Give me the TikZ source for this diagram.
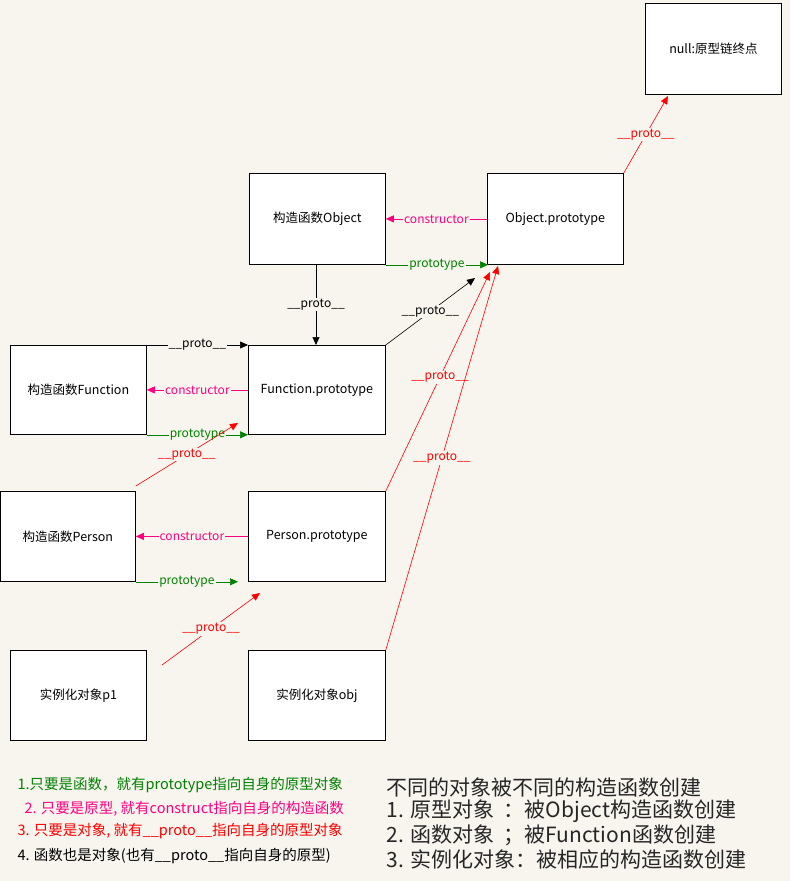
\documentclass[tikz,border=0pt]{standalone}
\usepackage{fontspec}
\setmainfont{Noto Sans CJK SC}
\usetikzlibrary{arrows.meta}
\definecolor{bg}{HTML}{F7F5EE}
\definecolor{grn}{HTML}{008000}
\definecolor{mag}{HTML}{FF0080}
\begin{document}
\begin{tikzpicture}[x=1pt,y=-1pt,
  box/.style={draw,fill=white,line width=0.8pt,inner sep=0pt,font=\fontsize{12.5}{14}\selectfont},
  lbl/.style={fill=bg,inner sep=1pt,font=\fontsize{12}{13}\selectfont},
  blk/.style={-{Triangle[length=8pt,width=7pt]},line width=0.6pt},
  gr/.style={blk,grn},
  mg/.style={blk,mag},
  rd/.style={blk,red}]
\fill[bg] (0,0) rectangle (790,881);
\useasboundingbox (0,0) rectangle (790,881);
\node[box,minimum width=136pt,minimum height=91pt,anchor=north west] (nul) at (645,3) {null:原型链终点};
\node[box,minimum width=136pt,minimum height=91pt,anchor=north west] (oc) at (249,173) {构造函数Object};
\node[box,minimum width=136pt,minimum height=91pt,anchor=north west] (op) at (487,173) {Object.prototype};
\node[box,minimum width=136pt,minimum height=89pt,anchor=north west] (fc) at (10,345) {构造函数Function};
\node[box,minimum width=137pt,minimum height=89pt,anchor=north west] (fp) at (248,345) {Function.prototype};
\node[box,minimum width=135pt,minimum height=90pt,anchor=north west] (pc) at (0,491) {构造函数Person};
\node[box,minimum width=137pt,minimum height=90pt,anchor=north west] (pp) at (248,491) {Person.prototype};
\node[box,minimum width=136pt,minimum height=90pt,anchor=north west] (p1) at (10,650) {实例化对象p1};
\node[box,minimum width=137pt,minimum height=90pt,anchor=north west] (ob) at (248,650) {实例化对象obj};
\coordinate (nulT) at (668,96);
\coordinate (opT1) at (475,278);
\coordinate (opT2) at (490,272);
\coordinate (opT3) at (498,266);
\coordinate (fpT) at (238,423);
\coordinate (ppT) at (260,593);
\coordinate (p1S) at (162,665);
\draw[rd] (op.north east) -- node[lbl,text=red] {\_\_proto\_\_} (nulT);
\draw[mg] (op.west) -- node[lbl,text=mag] {constructor} (oc.east);
\draw[gr] (oc.south east) -- node[lbl,text=grn] {prototype} ([xshift=1pt]op.south west);
\draw[blk] (316,264) -- node[lbl] {\_\_proto\_\_} (316,345);
\draw[blk] (fp.north east) -- node[lbl] {\_\_proto\_\_} (opT1);
\draw[blk] (fc.north east) -- node[lbl] {\_\_proto\_\_} (fp.north west);
\draw[mg] (fp.west) -- node[lbl,text=mag] {constructor} (fc.east);
\draw[gr] (fc.south east) -- node[lbl,text=grn] {prototype} (fp.south west);
\draw[rd] ([yshift=5pt]pc.north east) -- node[lbl,text=red] {\_\_proto\_\_} (fpT);
\draw[rd] (pp.north east) -- node[lbl,text=red,pos=0.52] {\_\_proto\_\_} (opT2);
\draw[rd] (ob.north east) -- node[lbl,text=red,pos=0.5] {\_\_proto\_\_} (opT3);
\draw[mg] (pp.west) -- node[lbl,text=mag] {constructor} (pc.east);
\draw[gr] (pc.south east) -- node[lbl,text=grn] {prototype} ([xshift=-10pt]pp.south west);
\draw[rd] (p1S) -- node[lbl,text=red] {\_\_proto\_\_} (ppT);
\begin{scope}[font=\fontsize{14.5}{16}\selectfont]
\node[anchor=west,text=grn] (n1) at (14,785) {1.只要是函数，就有prototype指向自身的原型对象};
\node[anchor=west,text=mag] (n2) at (21,809) {2. 只要是原型, 就有construct指向自身的构造函数};
\node[anchor=west,text=red] (n3) at (14,831) {3. 只要是对象, 就有\_\_proto\_\_指向自身的原型对象};
\node[anchor=west] (n4) at (14,856) {4. 函数也是对象(也有\_\_proto\_\_指向自身的原型)};
\end{scope}
\begin{scope}[font=\fontsize{21}{23}\selectfont,text=black!85]
\node[anchor=west] (m0) at (383,787) {不同的对象被不同的构造函数创建};
\node[anchor=west] (m1) at (383,811) {1. 原型对象\ \ ：被Object构造函数创建};
\node[anchor=west] (m2) at (383,835) {2. 函数对象\ \ ；被Function函数创建};
\node[anchor=west] (m3) at (383,859) {3. 实例化对象：被相应的构造函数创建};
\end{scope}
\end{tikzpicture}
\end{document}
